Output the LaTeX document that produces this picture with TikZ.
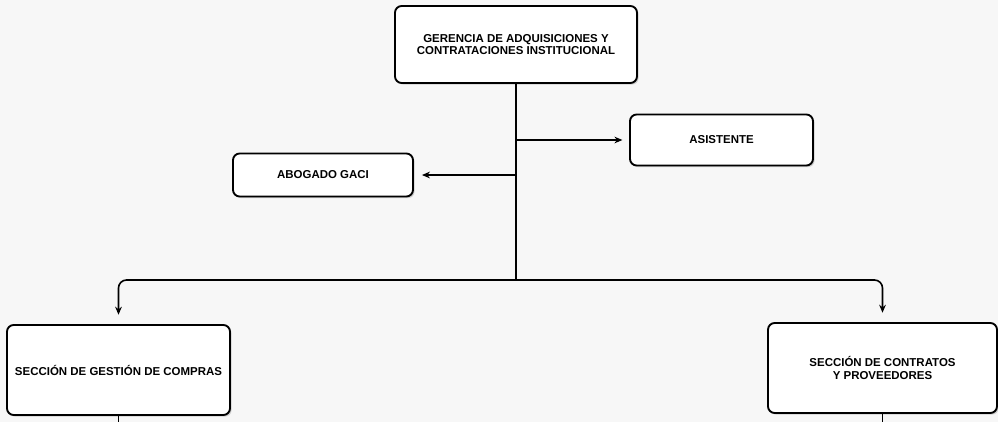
\documentclass[tikz,border=0pt]{standalone}
\usepackage{fontspec}
\setmainfont{Liberation Sans}
\usetikzlibrary{arrows.meta,shadows}
\tikzset{
  caja/.style={draw, line width=1.4pt, rounded corners=5pt, fill=white,
    align=center, font=\fontsize{8.6}{9.4}\selectfont\bfseries,
    drop shadow={shadow xshift=1.2pt, shadow yshift=-1.2pt, fill=black!35}},
  flecha/.style={line width=1.2pt, -{Stealth[length=6pt,width=5pt]}}
}
\begin{document}
\begin{tikzpicture}[x=0.75pt,y=-0.75pt]
\useasboundingbox[fill=black!3] (0,0) rectangle (998,422);
\node[caja, minimum width=181.5pt, minimum height=57.75pt] (gerencia) at (516,44.5)
  {GERENCIA DE ADQUISICIONES Y\\CONTRATACIONES INSTITUCIONAL};
\node[caja, minimum width=137.25pt, minimum height=38.25pt] (asistente) at (721.5,140) {ASISTENTE};
\node[caja, minimum width=135pt, minimum height=32.25pt] (abogado) at (323,175) {ABOGADO GACI};
\node[caja, minimum width=167.25pt, minimum height=67.5pt] (compras) at (118.5,370) {SECCIÓN DE GESTIÓN DE COMPRAS};
\node[caja, minimum width=171.75pt, minimum height=67.5pt] (contratos) at (882.5,368) {SECCIÓN DE CONTRATOS\\Y PROVEEDORES};
% tronco principal
\coordinate (reparto) at (gerencia.south |- 0,280);
\draw[line width=1.2pt] (gerencia.south) -- (reparto);
\draw[flecha, shorten >=5pt] (gerencia.south |- asistente.west) -- (asistente.west);
\draw[flecha, shorten >=6pt] (gerencia.south |- abogado.east) -- (abogado.east);
\draw[flecha, rounded corners=6pt, shorten >=7pt] (reparto) -| (compras.north);
\draw[flecha, rounded corners=6pt, shorten >=7pt] (reparto) -| (contratos.north);
% salidas inferiores
\coordinate (bajoA) at (compras.south |- 0,422);
\coordinate (bajoB) at (contratos.south |- 0,422);
\draw[line width=1.2pt] (compras.south) -- (bajoA);
\draw[line width=1.2pt] (contratos.south) -- (bajoB);
\end{tikzpicture}
\end{document}
